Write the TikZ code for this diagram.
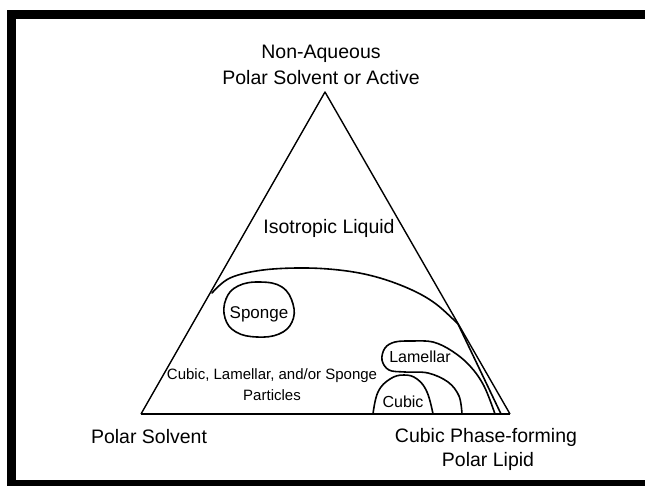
\documentclass[tikz,border=0pt]{standalone}
\usepackage{fontspec}
\setmainfont{Liberation Sans}
\begin{document}
\begin{tikzpicture}[x=1pt,y=-1pt,
  lbl/.style={inner sep=0pt,anchor=center,align=center,font=\fontsize{19.5}{24}\selectfont},
  smalllbl/.style={inner sep=0pt,anchor=center,align=center,font=\fontsize{16}{19}\selectfont},
  tinylbl/.style={inner sep=0pt,anchor=center,align=center,font=\fontsize{15}{19}\selectfont},
  edge/.style={line width=1.4pt,line join=round},
  region/.style={line width=1.6pt,line join=round,line cap=round}]
\useasboundingbox (0,0) rectangle (645,485);
% frame
\draw[line width=9pt,line join=miter] (670,14.5) -- (11.5,14.5) -- (11.5,484.5) -- (670,484.5);
% triangle
\coordinate (A) at (325,92);
\coordinate (L) at (141,414);
\coordinate (R) at (510,414);
\draw[edge] (L) -- (A) -- (R);
\draw[line width=2.6pt] (L) -- (R);
% isotropic boundary
\draw[region] plot[smooth,tension=0.6] coordinates {(212,293) (230,278) (263,270) (307,268) (347,271) (380,278) (412,290) (436,304) (458,324)}
  -- (501,414);
% sponge blob
\draw[region] plot[smooth cycle,tension=0.7] coordinates {(260,282) (282,287) (293,304) (292,322) (279,334) (257,337) (236,332) (225,318) (226,299) (238,286)};
% lamellar
\draw[region] plot[smooth,tension=0.6] coordinates {(462,414) (459,396) (448,382) (428,373) (405,372) (389,370) (382,360) (385,348) (395,342) (412,341) (433,342) (452,351) (470,366) (484,386) (495,414)};
% cubic
\draw[region] plot[smooth,tension=0.7] coordinates {(373,414) (378,392) (390,379) (404,375) (417,379) (427,392) (433,414)};
% labels
\node[lbl] (top1) at (321,54) {Non-Aqueous};
\node[lbl] (top2) at (321,78) {Polar Solvent or Active};
\node[lbl] (iso) at (329,228) {Isotropic Liquid};
\node[smalllbl,font=\fontsize{17}{20}\selectfont] (sponge) at (259,314) {Sponge};
\node[tinylbl] (part1) at (272,376) {Cubic, Lamellar, and/or Sponge};
\node[tinylbl] (part2) at (272,395) {Particles};
\node[smalllbl] (lam) at (420,357) {Lamellar};
\node[smalllbl] (cub) at (403,402) {Cubic};
\node[lbl] (ps) at (149,437) {Polar Solvent};
\node[lbl] (cp1) at (486,437) {Cubic Phase-forming};
\node[lbl] (cp2) at (488,461) {Polar Lipid};
\end{tikzpicture}
\end{document}
